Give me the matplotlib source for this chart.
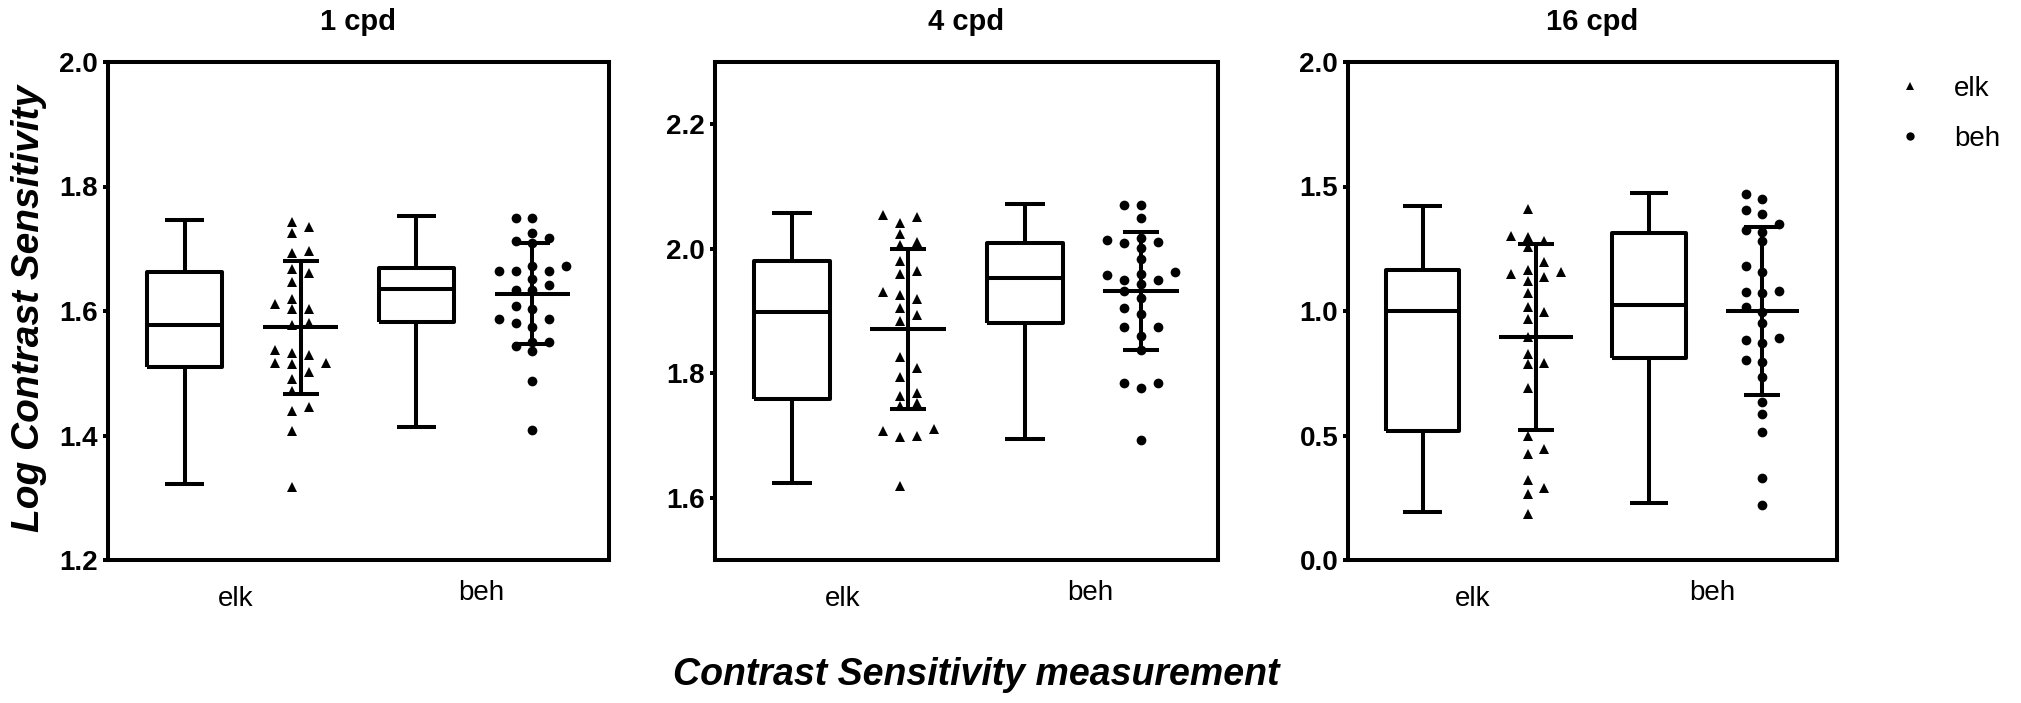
#!/usr/bin/env python3
# contrast sensitivity: box plots + scatter with mean/SD, three spatial frequencies

import numpy as np
import matplotlib
matplotlib.use("Agg")
import matplotlib.pyplot as plt
from matplotlib.lines import Line2D
from matplotlib.ticker import FormatStrFormatter
import matplotlib.transforms as mtransforms

plt.rcParams['font.family'] = ['Liberation Sans', 'DejaVu Sans']

titles = ["1 cpd", "4 cpd", "16 cpd"]
groups = ["elk", "beh"]

# individual values
elk_1 = [1.743, 1.735, 1.725, 1.693, 1.697, 1.661, 1.668, 1.647, 1.620, 1.611, 1.603, 1.603, 1.581, 1.577,
         1.529, 1.532, 1.538, 1.516, 1.516, 1.515, 1.502, 1.490, 1.472, 1.446, 1.440, 1.407, 1.318]
beh_1 = [1.750, 1.750, 1.726, 1.712, 1.717, 1.710, 1.665, 1.665, 1.672, 1.672, 1.665, 1.652, 1.642, 1.634,
         1.633, 1.608, 1.603, 1.587, 1.587, 1.581, 1.575, 1.551, 1.551, 1.544, 1.536, 1.487, 1.409]
elk_2 = [2.054, 2.042, 2.051, 2.023, 2.006, 2.011, 1.980, 1.964, 1.959, 1.925, 1.919, 1.930, 1.905, 1.894,
         1.884, 1.826, 1.808, 1.794, 1.763, 1.769, 1.748, 1.752, 1.707, 1.698, 1.700, 1.710, 1.619]
beh_2 = [2.070, 2.070, 2.049, 2.011, 2.014, 2.018, 2.010, 2.001, 1.983, 1.950, 1.958, 1.962, 1.959, 1.950,
         1.944, 1.932, 1.921, 1.905, 1.895, 1.874, 1.874, 1.860, 1.837, 1.784, 1.785, 1.777, 1.692]
elk_3 = [1.410, 1.282, 1.302, 1.296, 1.257, 1.196, 1.164, 1.149, 1.157, 1.122, 1.136, 1.073, 1.016, 0.997,
         0.966, 0.897, 0.829, 0.793, 0.789, 0.690, 0.497, 0.446, 0.426, 0.320, 0.290, 0.266, 0.184]
beh_3 = [1.469, 1.449, 1.390, 1.404, 1.350, 1.316, 1.326, 1.280, 1.180, 1.157, 1.077, 1.082, 1.073, 1.016,
         0.996, 0.953, 0.870, 0.884, 0.890, 0.804, 0.796, 0.736, 0.636, 0.586, 0.513, 0.330, 0.220]

# box stats [min, q1, median, q3, max] per panel, elk then beh
box_elk = [[1.322, 1.510, 1.578, 1.663, 1.746],
           [1.623, 1.759, 1.898, 1.981, 2.058],
           [0.193, 0.520, 1.002, 1.166, 1.420]]
box_beh = [[1.413, 1.583, 1.636, 1.669, 1.753],
           [1.695, 1.880, 1.953, 2.009, 2.072],
           [0.228, 0.812, 1.023, 1.314, 1.475]]

# mean and SD per panel
mean_elk = [1.574, 1.871, 0.895]
sd_elk = [0.107, 0.1285, 0.3725]
mean_beh = [1.628, 1.932, 1.000]
sd_beh = [0.0815, 0.095, 0.339]

points = [(elk_1, beh_1), (elk_2, beh_2), (elk_3, beh_3)]

ylims = [(1.2, 2.0), (1.5, 2.3), (0.0, 2.0)]
yticks = [[1.2, 1.4, 1.6, 1.8, 2.0], [1.6, 1.8, 2.0, 2.2], [0.0, 0.5, 1.0, 1.5, 2.0]]

LW = 2.9


def swarm(vals, step, h, half):
    """simple prism-like column swarm: put each point in the nearest free slot"""
    vals = np.asarray(vals)
    if half:
        slots = [-0.5, 0.5, -1.5, 1.5, -2.5, 2.5, -3.5, 3.5]
    else:
        slots = [0, -1, 1, -2, 2, -3, 3]
    placed = {s: [] for s in slots}
    offs = np.zeros(len(vals))
    for i in np.argsort(vals):
        v = vals[i]
        for s in slots:
            if all(abs(v - u) >= h for u in placed[s]):
                placed[s].append(v)
                offs[i] = s * step
                break
    return offs


def main():
    fig = plt.figure(figsize=(20.21, 7.03), dpi=100)
    lefts = [108, 715, 1348]
    widths = [501, 503, 489]
    axs = [fig.add_axes([l / 2021, 143 / 703, w / 2021, 498 / 703]) for l, w in zip(lefts, widths)]

    for k, ax in enumerate(axs):
        lo, hi = ylims[k]
        h = 0.018 * (hi - lo)
        stats = []
        for b in (box_elk[k], box_beh[k]):
            stats.append(dict(whislo=b[0], q1=b[1], med=b[2], q3=b[3], whishi=b[4], fliers=[]))
        lp = dict(color='k', lw=LW, solid_capstyle='butt')
        ax.bxp(stats, positions=[1, 3], widths=0.65, capwidths=0.34, showfliers=False,
               boxprops=lp, medianprops=lp, whiskerprops=lp, capprops=lp)

        elk, beh = points[k]
        ax.plot(2 + swarm(elk, 0.145, h, True), elk, ls='none', marker='^', ms=7, color='k', mew=0)
        ax.plot(4 + swarm(beh, 0.145, h, False), beh, ls='none', marker='o', ms=7, color='k', mew=0)

        for x, m, s in ((2, mean_elk[k], sd_elk[k]), (4, mean_beh[k], sd_beh[k])):
            ax.errorbar([x], [m], yerr=[s], fmt='none', ecolor='k', elinewidth=LW,
                        capsize=13.3, capthick=LW, zorder=3)
            ax.hlines(m, x - 0.325, x + 0.325, color='k', lw=LW, zorder=3)

        ax.set_xlim(0.34, 4.66)
        ax.set_ylim(lo, hi)
        ax.set_yticks(yticks[k])
        ax.yaxis.set_major_formatter(FormatStrFormatter('%.1f'))
        ax.set_xticks([])
        ax.tick_params(axis='y', direction='out', length=3.6, width=LW, pad=3.5, labelsize=20)
        for lab in ax.get_yticklabels():
            lab.set_fontweight('bold')
        for sp in ax.spines.values():
            sp.set_linewidth(LW)
            sp.set_zorder(5)
        ax.set_title(titles[k], fontsize=21, fontweight='bold', pad=23)

        trans = mtransforms.blended_transform_factory(ax.transData, ax.transAxes)
        ax.text(1.44, -46 / 498, groups[0], transform=trans, ha='center', va='baseline', fontsize=20)
        ax.text(3.56, -40 / 498, groups[1], transform=trans, ha='center', va='baseline', fontsize=20)

    fig.text(29.5 / 2021, 1 - 308 / 703, "Log Contrast Sensitivity", rotation=90, ha='center', va='center',
             fontsize=28, fontweight='bold', fontstyle='italic')
    fig.text(976 / 2021, 1 - 685 / 703, "Contrast Sensitivity measurement", ha='center', va='baseline',
             fontsize=27, fontweight='bold', fontstyle='italic')

    handles = [Line2D([], [], ls='none', marker='^', ms=5.5, color='k', mew=0),
               Line2D([], [], ls='none', marker='o', ms=6, color='k', mew=0)]
    fig.legend(handles, groups, loc='upper left', bbox_to_anchor=(1882 / 2021, 1 - 76 / 703),
               frameon=False, fontsize=20, handletextpad=0.6, labelspacing=0.86,
               borderpad=0, borderaxespad=0)

    fig.savefig("out.png", dpi=100)


if __name__ == "__main__":
    main()
